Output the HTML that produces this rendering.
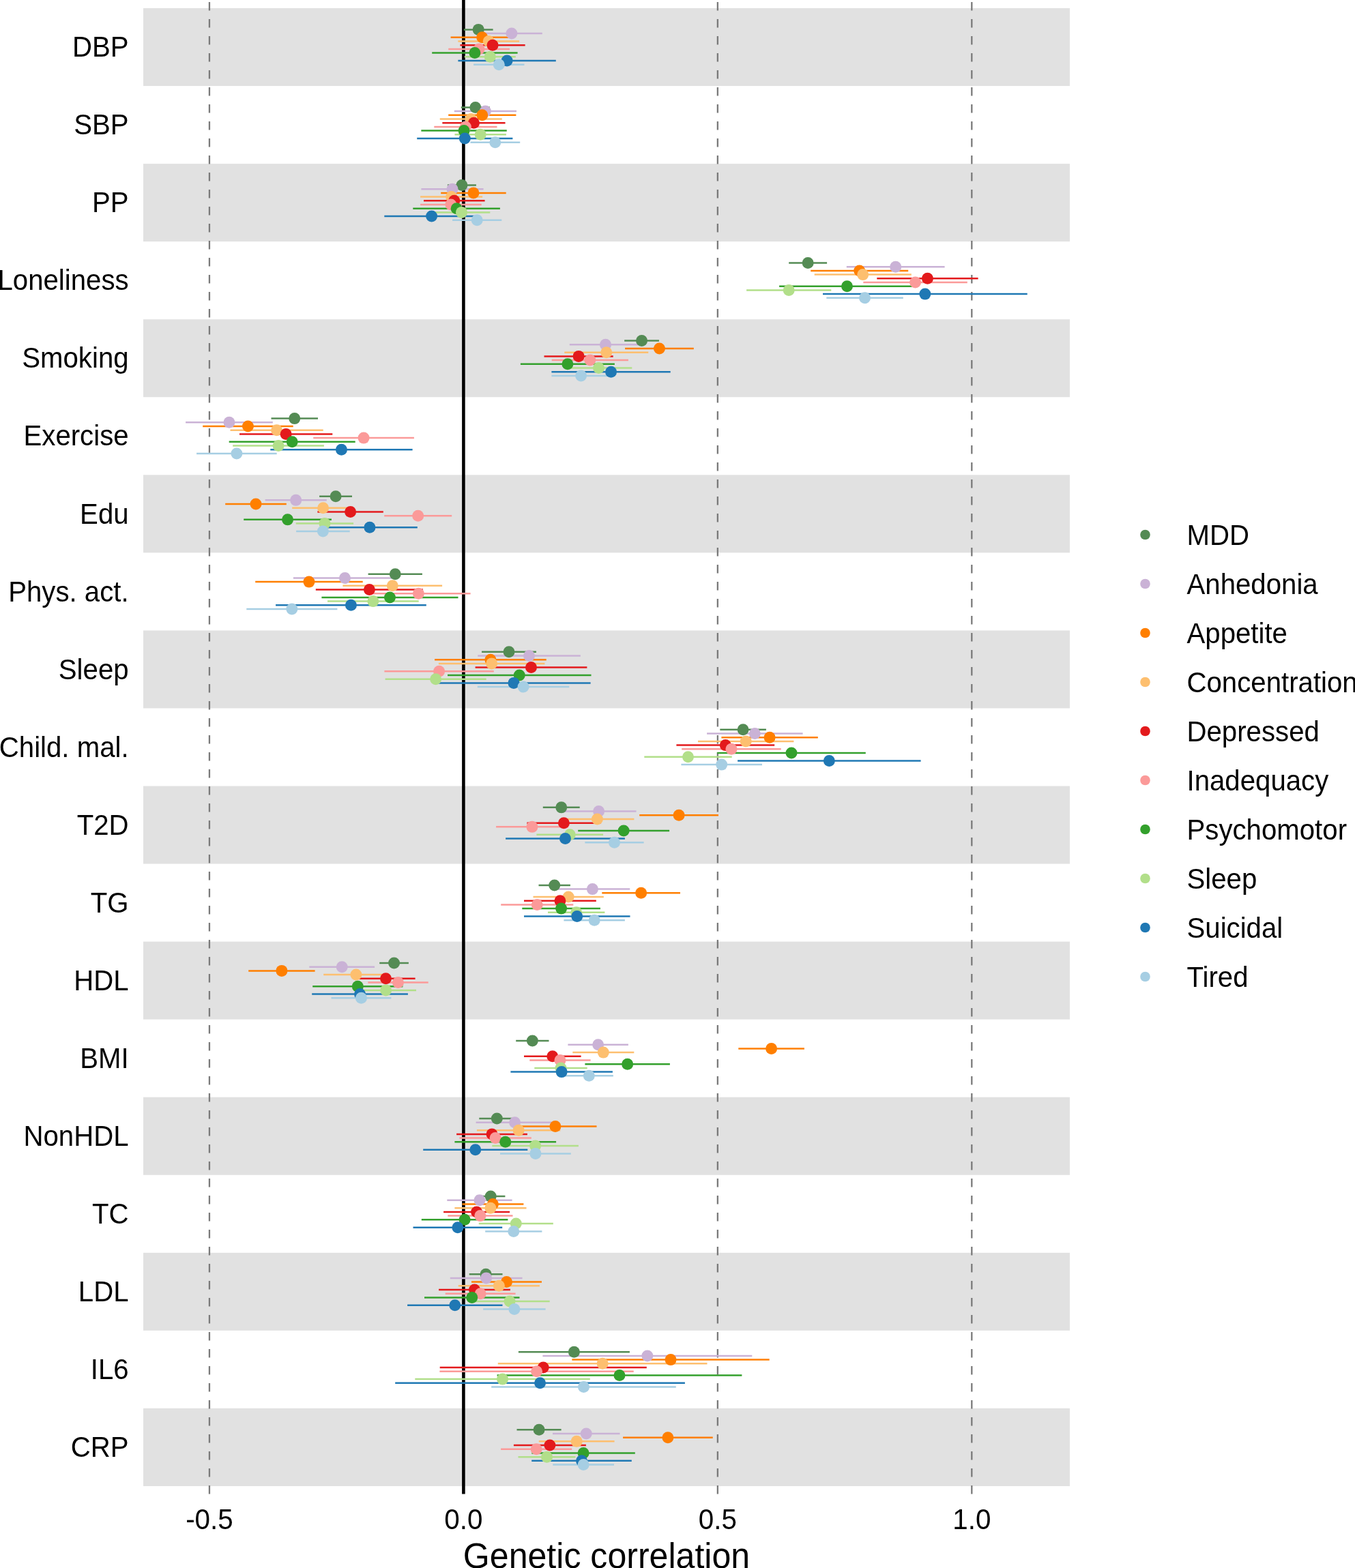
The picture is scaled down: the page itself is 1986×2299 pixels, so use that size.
<!DOCTYPE html>
<html><head><meta charset="utf-8"><title>Genetic correlation</title>
<style>html,body{margin:0;padding:0;background:#fff;}body{width:1986px;height:2299px;overflow:hidden;}svg{display:block;}text{font-family:"Liberation Sans",Arial,Helvetica,sans-serif;fill:#000;}</style></head><body>
<svg width="1986" height="2299" viewBox="0 0 1986 2299">
<rect x="0" y="0" width="1986" height="2299" fill="#fff"/>
<g fill="#E1E1E1">
<rect x="210" y="12" width="1358" height="114.05"/>
<rect x="210" y="240.1" width="1358" height="114.05"/>
<rect x="210" y="468.2" width="1358" height="114.05"/>
<rect x="210" y="696.3" width="1358" height="114.05"/>
<rect x="210" y="924.4" width="1358" height="114.05"/>
<rect x="210" y="1152.5" width="1358" height="114.05"/>
<rect x="210" y="1380.6" width="1358" height="114.05"/>
<rect x="210" y="1608.7" width="1358" height="114.05"/>
<rect x="210" y="1836.8" width="1358" height="114.05"/>
<rect x="210" y="2064.9" width="1358" height="114.05"/>
</g>
<g stroke="#7a7a7a" stroke-width="2.3" stroke-dasharray="12.5 12.5" fill="none">
<line x1="306.95" y1="2190.5" x2="306.95" y2="0"/>
<line x1="1051.85" y1="2190.5" x2="1051.85" y2="0"/>
<line x1="1424.3" y1="2190.5" x2="1424.3" y2="0"/>
</g>
<line x1="679.4" y1="2190.5" x2="679.4" y2="0" stroke="#000" stroke-width="4.6"/>
<g stroke-width="2.5" fill="none">
<line x1="679.8" y1="43.38" x2="722.6" y2="43.38" stroke="#548B54"/>
<line x1="705" y1="49.08" x2="794.8" y2="49.08" stroke="#CAB2D6"/>
<line x1="660.6" y1="54.78" x2="752.8" y2="54.78" stroke="#FF7F00"/>
<line x1="671.35" y1="60.48" x2="761.15" y2="60.48" stroke="#FDBF6F"/>
<line x1="674.45" y1="66.18" x2="769.65" y2="66.18" stroke="#E31A1C"/>
<line x1="657.2" y1="71.88" x2="747" y2="71.88" stroke="#FB9A99"/>
<line x1="633.2" y1="77.58" x2="758.6" y2="77.58" stroke="#33A02C"/>
<line x1="680.8" y1="83.28" x2="755.8" y2="83.28" stroke="#B2DF8A"/>
<line x1="671.4" y1="88.98" x2="814.8" y2="88.98" stroke="#1F78B4"/>
<line x1="694.1" y1="94.68" x2="768.5" y2="94.68" stroke="#A6CEE3"/>
<line x1="675.8" y1="157.42" x2="717.8" y2="157.42" stroke="#548B54"/>
<line x1="665.8" y1="163.12" x2="757" y2="163.12" stroke="#CAB2D6"/>
<line x1="657.2" y1="168.82" x2="756.4" y2="168.82" stroke="#FF7F00"/>
<line x1="644.75" y1="174.52" x2="735.75" y2="174.52" stroke="#FDBF6F"/>
<line x1="648.35" y1="180.22" x2="740.55" y2="180.22" stroke="#E31A1C"/>
<line x1="636.3" y1="185.92" x2="728.5" y2="185.92" stroke="#FB9A99"/>
<line x1="617.35" y1="191.62" x2="742.75" y2="191.62" stroke="#33A02C"/>
<line x1="666.5" y1="197.32" x2="741.9" y2="197.32" stroke="#B2DF8A"/>
<line x1="611.2" y1="203.02" x2="751.4" y2="203.02" stroke="#1F78B4"/>
<line x1="689.4" y1="208.72" x2="762.2" y2="208.72" stroke="#A6CEE3"/>
<line x1="655.9" y1="271.48" x2="697.9" y2="271.48" stroke="#548B54"/>
<line x1="617.4" y1="277.18" x2="708.6" y2="277.18" stroke="#CAB2D6"/>
<line x1="646.2" y1="282.88" x2="741.7" y2="282.88" stroke="#FF7F00"/>
<line x1="616.1" y1="288.57" x2="707.1" y2="288.57" stroke="#FDBF6F"/>
<line x1="621" y1="294.27" x2="710.6" y2="294.27" stroke="#E31A1C"/>
<line x1="616.1" y1="299.98" x2="705.7" y2="299.98" stroke="#FB9A99"/>
<line x1="605.3" y1="305.68" x2="732.9" y2="305.68" stroke="#33A02C"/>
<line x1="634.7" y1="311.38" x2="718.3" y2="311.38" stroke="#B2DF8A"/>
<line x1="563.3" y1="317.07" x2="701.9" y2="317.07" stroke="#1F78B4"/>
<line x1="663.1" y1="322.77" x2="735.3" y2="322.77" stroke="#A6CEE3"/>
<line x1="1156.2" y1="385.53" x2="1212.1" y2="385.53" stroke="#548B54"/>
<line x1="1240.8" y1="391.23" x2="1384.6" y2="391.23" stroke="#CAB2D6"/>
<line x1="1188.2" y1="396.93" x2="1331.2" y2="396.93" stroke="#FF7F00"/>
<line x1="1193.7" y1="402.62" x2="1335.8" y2="402.62" stroke="#FDBF6F"/>
<line x1="1285.3" y1="408.32" x2="1433.6" y2="408.32" stroke="#E31A1C"/>
<line x1="1265.3" y1="414.03" x2="1417.8" y2="414.03" stroke="#FB9A99"/>
<line x1="1142.1" y1="419.73" x2="1340.9" y2="419.73" stroke="#33A02C"/>
<line x1="1094.1" y1="425.43" x2="1218.3" y2="425.43" stroke="#B2DF8A"/>
<line x1="1206" y1="431.12" x2="1505.7" y2="431.12" stroke="#1F78B4"/>
<line x1="1211.3" y1="436.82" x2="1323.8" y2="436.82" stroke="#A6CEE3"/>
<line x1="915.15" y1="499.58" x2="965.95" y2="499.58" stroke="#548B54"/>
<line x1="834.8" y1="505.28" x2="940.2" y2="505.28" stroke="#CAB2D6"/>
<line x1="916.1" y1="510.98" x2="1016.8" y2="510.98" stroke="#FF7F00"/>
<line x1="827.25" y1="516.68" x2="950.25" y2="516.68" stroke="#FDBF6F"/>
<line x1="797.5" y1="522.38" x2="898.7" y2="522.38" stroke="#E31A1C"/>
<line x1="808.7" y1="528.08" x2="920.9" y2="528.08" stroke="#FB9A99"/>
<line x1="762.9" y1="533.77" x2="900.9" y2="533.77" stroke="#33A02C"/>
<line x1="828.7" y1="539.48" x2="926.3" y2="539.48" stroke="#B2DF8A"/>
<line x1="808.4" y1="545.18" x2="982.7" y2="545.18" stroke="#1F78B4"/>
<line x1="808.4" y1="550.88" x2="894.8" y2="550.88" stroke="#A6CEE3"/>
<line x1="397.5" y1="613.62" x2="466" y2="613.62" stroke="#548B54"/>
<line x1="272.1" y1="619.32" x2="399.8" y2="619.32" stroke="#CAB2D6"/>
<line x1="297.2" y1="625.02" x2="429.7" y2="625.02" stroke="#FF7F00"/>
<line x1="337.5" y1="630.73" x2="473.7" y2="630.73" stroke="#FDBF6F"/>
<line x1="351" y1="636.42" x2="487.3" y2="636.42" stroke="#E31A1C"/>
<line x1="459.2" y1="642.12" x2="606.9" y2="642.12" stroke="#FB9A99"/>
<line x1="335.7" y1="647.82" x2="520.7" y2="647.82" stroke="#33A02C"/>
<line x1="341.2" y1="653.52" x2="474.9" y2="653.52" stroke="#B2DF8A"/>
<line x1="396.3" y1="659.23" x2="604.6" y2="659.23" stroke="#1F78B4"/>
<line x1="288.1" y1="664.92" x2="405.7" y2="664.92" stroke="#A6CEE3"/>
<line x1="468.1" y1="727.67" x2="516" y2="727.67" stroke="#548B54"/>
<line x1="388.6" y1="733.37" x2="478.8" y2="733.37" stroke="#CAB2D6"/>
<line x1="330.2" y1="739.07" x2="419.8" y2="739.07" stroke="#FF7F00"/>
<line x1="428.2" y1="744.77" x2="519" y2="744.77" stroke="#FDBF6F"/>
<line x1="465.4" y1="750.47" x2="561.8" y2="750.47" stroke="#E31A1C"/>
<line x1="563.2" y1="756.17" x2="662.2" y2="756.17" stroke="#FB9A99"/>
<line x1="357.2" y1="761.87" x2="485.9" y2="761.87" stroke="#33A02C"/>
<line x1="433.7" y1="767.57" x2="518.1" y2="767.57" stroke="#B2DF8A"/>
<line x1="472" y1="773.27" x2="611.8" y2="773.27" stroke="#1F78B4"/>
<line x1="434.1" y1="778.97" x2="512.7" y2="778.97" stroke="#A6CEE3"/>
<line x1="539.6" y1="841.73" x2="618.9" y2="841.73" stroke="#548B54"/>
<line x1="429.9" y1="847.42" x2="581.1" y2="847.42" stroke="#CAB2D6"/>
<line x1="374.2" y1="853.12" x2="531.7" y2="853.12" stroke="#FF7F00"/>
<line x1="502.4" y1="858.83" x2="648.1" y2="858.83" stroke="#FDBF6F"/>
<line x1="462.8" y1="864.52" x2="620" y2="864.52" stroke="#E31A1C"/>
<line x1="537.2" y1="870.23" x2="689.6" y2="870.23" stroke="#FB9A99"/>
<line x1="471.4" y1="875.92" x2="671.5" y2="875.92" stroke="#33A02C"/>
<line x1="480" y1="881.62" x2="613.7" y2="881.62" stroke="#B2DF8A"/>
<line x1="404.1" y1="887.33" x2="624.8" y2="887.33" stroke="#1F78B4"/>
<line x1="361.3" y1="893.02" x2="494.4" y2="893.02" stroke="#A6CEE3"/>
<line x1="706.05" y1="955.77" x2="785.95" y2="955.77" stroke="#548B54"/>
<line x1="700.3" y1="961.47" x2="850.8" y2="961.47" stroke="#CAB2D6"/>
<line x1="637.1" y1="967.17" x2="800.7" y2="967.17" stroke="#FF7F00"/>
<line x1="642.9" y1="972.88" x2="798.4" y2="972.88" stroke="#FDBF6F"/>
<line x1="696.6" y1="978.57" x2="860.4" y2="978.57" stroke="#E31A1C"/>
<line x1="563.4" y1="984.27" x2="723.8" y2="984.27" stroke="#FB9A99"/>
<line x1="656" y1="989.97" x2="866.5" y2="989.97" stroke="#33A02C"/>
<line x1="564.6" y1="995.67" x2="712.7" y2="995.67" stroke="#B2DF8A"/>
<line x1="640.4" y1="1001.38" x2="865.6" y2="1001.38" stroke="#1F78B4"/>
<line x1="699.8" y1="1007.07" x2="834.3" y2="1007.07" stroke="#A6CEE3"/>
<line x1="1055.3" y1="1069.82" x2="1122.9" y2="1069.82" stroke="#548B54"/>
<line x1="1036.1" y1="1075.52" x2="1176.6" y2="1075.52" stroke="#CAB2D6"/>
<line x1="1057.4" y1="1081.22" x2="1198.8" y2="1081.22" stroke="#FF7F00"/>
<line x1="1023" y1="1086.92" x2="1163.4" y2="1086.92" stroke="#FDBF6F"/>
<line x1="991.4" y1="1092.62" x2="1135.2" y2="1092.62" stroke="#E31A1C"/>
<line x1="999.2" y1="1098.32" x2="1144.7" y2="1098.32" stroke="#FB9A99"/>
<line x1="1051.2" y1="1104.02" x2="1268.8" y2="1104.02" stroke="#33A02C"/>
<line x1="944.3" y1="1109.72" x2="1072.7" y2="1109.72" stroke="#B2DF8A"/>
<line x1="1081.1" y1="1115.42" x2="1349.6" y2="1115.42" stroke="#1F78B4"/>
<line x1="998.4" y1="1121.12" x2="1117" y2="1121.12" stroke="#A6CEE3"/>
<line x1="795.8" y1="1183.87" x2="849.7" y2="1183.87" stroke="#548B54"/>
<line x1="822.7" y1="1189.57" x2="932.5" y2="1189.57" stroke="#CAB2D6"/>
<line x1="937.2" y1="1195.27" x2="1053" y2="1195.27" stroke="#FF7F00"/>
<line x1="821.4" y1="1200.97" x2="929.4" y2="1200.97" stroke="#FDBF6F"/>
<line x1="772.4" y1="1206.67" x2="880.4" y2="1206.67" stroke="#E31A1C"/>
<line x1="727.1" y1="1212.37" x2="832.7" y2="1212.37" stroke="#FB9A99"/>
<line x1="847.2" y1="1218.07" x2="981.1" y2="1218.07" stroke="#33A02C"/>
<line x1="786.4" y1="1223.77" x2="884.1" y2="1223.77" stroke="#B2DF8A"/>
<line x1="741.1" y1="1229.47" x2="915.9" y2="1229.47" stroke="#1F78B4"/>
<line x1="857.4" y1="1235.17" x2="943.6" y2="1235.17" stroke="#A6CEE3"/>
<line x1="789.5" y1="1297.92" x2="835.9" y2="1297.92" stroke="#548B54"/>
<line x1="813.55" y1="1303.62" x2="923.25" y2="1303.62" stroke="#CAB2D6"/>
<line x1="882.3" y1="1309.33" x2="997" y2="1309.33" stroke="#FF7F00"/>
<line x1="781.5" y1="1315.03" x2="884.8" y2="1315.03" stroke="#FDBF6F"/>
<line x1="768" y1="1320.73" x2="873.8" y2="1320.73" stroke="#E31A1C"/>
<line x1="734.2" y1="1326.42" x2="840.3" y2="1326.42" stroke="#FB9A99"/>
<line x1="765.3" y1="1332.12" x2="879.9" y2="1332.12" stroke="#33A02C"/>
<line x1="803" y1="1337.83" x2="886.4" y2="1337.83" stroke="#B2DF8A"/>
<line x1="768" y1="1343.53" x2="923.5" y2="1343.53" stroke="#1F78B4"/>
<line x1="826.4" y1="1349.23" x2="915.9" y2="1349.23" stroke="#A6CEE3"/>
<line x1="556.2" y1="1411.97" x2="598.9" y2="1411.97" stroke="#548B54"/>
<line x1="453.3" y1="1417.67" x2="549.1" y2="1417.67" stroke="#CAB2D6"/>
<line x1="364.2" y1="1423.38" x2="461.6" y2="1423.38" stroke="#FF7F00"/>
<line x1="474.2" y1="1429.08" x2="569.6" y2="1429.08" stroke="#FDBF6F"/>
<line x1="522.4" y1="1434.78" x2="608.6" y2="1434.78" stroke="#E31A1C"/>
<line x1="539.3" y1="1440.47" x2="627.7" y2="1440.47" stroke="#FB9A99"/>
<line x1="458.2" y1="1446.17" x2="590.4" y2="1446.17" stroke="#33A02C"/>
<line x1="521.2" y1="1451.88" x2="610" y2="1451.88" stroke="#B2DF8A"/>
<line x1="457.2" y1="1457.58" x2="597.9" y2="1457.58" stroke="#1F78B4"/>
<line x1="485.5" y1="1463.28" x2="573.4" y2="1463.28" stroke="#A6CEE3"/>
<line x1="756.2" y1="1526.02" x2="804.5" y2="1526.02" stroke="#548B54"/>
<line x1="832.4" y1="1531.72" x2="920.9" y2="1531.72" stroke="#CAB2D6"/>
<line x1="1082.3" y1="1537.42" x2="1178.9" y2="1537.42" stroke="#FF7F00"/>
<line x1="839.3" y1="1543.12" x2="929.3" y2="1543.12" stroke="#FDBF6F"/>
<line x1="768" y1="1548.83" x2="851.6" y2="1548.83" stroke="#E31A1C"/>
<line x1="776.3" y1="1554.52" x2="865.6" y2="1554.52" stroke="#FB9A99"/>
<line x1="857.4" y1="1560.22" x2="981.9" y2="1560.22" stroke="#33A02C"/>
<line x1="783.3" y1="1565.92" x2="860.7" y2="1565.92" stroke="#B2DF8A"/>
<line x1="748.4" y1="1571.62" x2="897.9" y2="1571.62" stroke="#1F78B4"/>
<line x1="827.8" y1="1577.33" x2="898.8" y2="1577.33" stroke="#A6CEE3"/>
<line x1="702.3" y1="1640.07" x2="754.3" y2="1640.07" stroke="#548B54"/>
<line x1="697.6" y1="1645.77" x2="811.6" y2="1645.77" stroke="#CAB2D6"/>
<line x1="753.3" y1="1651.47" x2="874.5" y2="1651.47" stroke="#FF7F00"/>
<line x1="698.9" y1="1657.17" x2="821.3" y2="1657.17" stroke="#FDBF6F"/>
<line x1="669.1" y1="1662.88" x2="772.9" y2="1662.88" stroke="#E31A1C"/>
<line x1="673.4" y1="1668.57" x2="778.8" y2="1668.57" stroke="#FB9A99"/>
<line x1="666.4" y1="1674.27" x2="815.1" y2="1674.27" stroke="#33A02C"/>
<line x1="721.3" y1="1679.97" x2="847.9" y2="1679.97" stroke="#B2DF8A"/>
<line x1="620.2" y1="1685.67" x2="773.3" y2="1685.67" stroke="#1F78B4"/>
<line x1="733" y1="1691.38" x2="836.8" y2="1691.38" stroke="#A6CEE3"/>
<line x1="698" y1="1754.12" x2="740.4" y2="1754.12" stroke="#548B54"/>
<line x1="655.3" y1="1759.82" x2="750.6" y2="1759.82" stroke="#CAB2D6"/>
<line x1="677.4" y1="1765.52" x2="767.4" y2="1765.52" stroke="#FF7F00"/>
<line x1="666.4" y1="1771.22" x2="771.5" y2="1771.22" stroke="#FDBF6F"/>
<line x1="650.1" y1="1776.92" x2="747.1" y2="1776.92" stroke="#E31A1C"/>
<line x1="656.3" y1="1782.62" x2="751.5" y2="1782.62" stroke="#FB9A99"/>
<line x1="617.8" y1="1788.32" x2="744.4" y2="1788.32" stroke="#33A02C"/>
<line x1="701.8" y1="1794.02" x2="810.8" y2="1794.02" stroke="#B2DF8A"/>
<line x1="605.5" y1="1799.72" x2="736.2" y2="1799.72" stroke="#1F78B4"/>
<line x1="711.2" y1="1805.42" x2="794.4" y2="1805.42" stroke="#A6CEE3"/>
<line x1="687.7" y1="1868.17" x2="736.5" y2="1868.17" stroke="#548B54"/>
<line x1="659.8" y1="1873.88" x2="765.5" y2="1873.88" stroke="#CAB2D6"/>
<line x1="691" y1="1879.58" x2="794" y2="1879.58" stroke="#FF7F00"/>
<line x1="671.75" y1="1885.28" x2="790.95" y2="1885.28" stroke="#FDBF6F"/>
<line x1="643.1" y1="1890.98" x2="747.9" y2="1890.98" stroke="#E31A1C"/>
<line x1="652.7" y1="1896.67" x2="755.6" y2="1896.67" stroke="#FB9A99"/>
<line x1="622" y1="1902.38" x2="761.5" y2="1902.38" stroke="#33A02C"/>
<line x1="688.3" y1="1908.08" x2="805.7" y2="1908.08" stroke="#B2DF8A"/>
<line x1="597.1" y1="1913.78" x2="736.5" y2="1913.78" stroke="#1F78B4"/>
<line x1="708.2" y1="1919.48" x2="799.6" y2="1919.48" stroke="#A6CEE3"/>
<line x1="759.9" y1="1982.22" x2="922.9" y2="1982.22" stroke="#548B54"/>
<line x1="795.4" y1="1987.92" x2="1102.3" y2="1987.92" stroke="#CAB2D6"/>
<line x1="838.4" y1="1993.62" x2="1127.7" y2="1993.62" stroke="#FF7F00"/>
<line x1="729.8" y1="1999.33" x2="1036.5" y2="1999.33" stroke="#FDBF6F"/>
<line x1="644.7" y1="2005.03" x2="947.8" y2="2005.03" stroke="#E31A1C"/>
<line x1="644.4" y1="2010.72" x2="928.7" y2="2010.72" stroke="#FB9A99"/>
<line x1="728.6" y1="2016.42" x2="1087.4" y2="2016.42" stroke="#33A02C"/>
<line x1="608.3" y1="2022.12" x2="864.8" y2="2022.12" stroke="#B2DF8A"/>
<line x1="579.2" y1="2027.83" x2="1003.9" y2="2027.83" stroke="#1F78B4"/>
<line x1="720.2" y1="2033.53" x2="990.8" y2="2033.53" stroke="#A6CEE3"/>
<line x1="757.5" y1="2096.27" x2="822.6" y2="2096.27" stroke="#548B54"/>
<line x1="810" y1="2101.97" x2="908.5" y2="2101.97" stroke="#CAB2D6"/>
<line x1="913.1" y1="2107.67" x2="1044.7" y2="2107.67" stroke="#FF7F00"/>
<line x1="789.8" y1="2113.37" x2="900.6" y2="2113.37" stroke="#FDBF6F"/>
<line x1="752.9" y1="2119.07" x2="858.9" y2="2119.07" stroke="#E31A1C"/>
<line x1="734.1" y1="2124.77" x2="838.2" y2="2124.77" stroke="#FB9A99"/>
<line x1="779.4" y1="2130.47" x2="930.8" y2="2130.47" stroke="#33A02C"/>
<line x1="759.5" y1="2136.17" x2="843.5" y2="2136.17" stroke="#B2DF8A"/>
<line x1="779.2" y1="2141.87" x2="925.8" y2="2141.87" stroke="#1F78B4"/>
<line x1="810.3" y1="2147.57" x2="900" y2="2147.57" stroke="#A6CEE3"/>
</g>
<g>
<circle cx="701.2" cy="43.38" r="8.5" fill="#548B54"/>
<circle cx="749.9" cy="49.08" r="8.5" fill="#CAB2D6"/>
<circle cx="706.7" cy="54.78" r="8.5" fill="#FF7F00"/>
<circle cx="716.25" cy="60.48" r="8.5" fill="#FDBF6F"/>
<circle cx="722.05" cy="66.18" r="8.5" fill="#E31A1C"/>
<circle cx="702.1" cy="71.88" r="8.5" fill="#FB9A99"/>
<circle cx="695.9" cy="77.58" r="8.5" fill="#33A02C"/>
<circle cx="718.3" cy="83.28" r="8.5" fill="#B2DF8A"/>
<circle cx="743.1" cy="88.98" r="8.5" fill="#1F78B4"/>
<circle cx="731.3" cy="94.68" r="8.5" fill="#A6CEE3"/>
<circle cx="696.8" cy="157.42" r="8.5" fill="#548B54"/>
<circle cx="711.4" cy="163.12" r="8.5" fill="#CAB2D6"/>
<circle cx="706.8" cy="168.82" r="8.5" fill="#FF7F00"/>
<circle cx="690.25" cy="174.52" r="8.5" fill="#FDBF6F"/>
<circle cx="694.45" cy="180.22" r="8.5" fill="#E31A1C"/>
<circle cx="682.4" cy="185.92" r="8.5" fill="#FB9A99"/>
<circle cx="680.05" cy="191.62" r="8.5" fill="#33A02C"/>
<circle cx="704.2" cy="197.32" r="8.5" fill="#B2DF8A"/>
<circle cx="681.3" cy="203.02" r="8.5" fill="#1F78B4"/>
<circle cx="725.8" cy="208.72" r="8.5" fill="#A6CEE3"/>
<circle cx="676.9" cy="271.48" r="8.5" fill="#548B54"/>
<circle cx="663" cy="277.18" r="8.5" fill="#CAB2D6"/>
<circle cx="693.95" cy="282.88" r="8.5" fill="#FF7F00"/>
<circle cx="661.6" cy="288.57" r="8.5" fill="#FDBF6F"/>
<circle cx="665.8" cy="294.27" r="8.5" fill="#E31A1C"/>
<circle cx="660.9" cy="299.98" r="8.5" fill="#FB9A99"/>
<circle cx="669.1" cy="305.68" r="8.5" fill="#33A02C"/>
<circle cx="676.5" cy="311.38" r="8.5" fill="#B2DF8A"/>
<circle cx="632.6" cy="317.07" r="8.5" fill="#1F78B4"/>
<circle cx="699.2" cy="322.77" r="8.5" fill="#A6CEE3"/>
<circle cx="1184.15" cy="385.53" r="8.5" fill="#548B54"/>
<circle cx="1312.7" cy="391.23" r="8.5" fill="#CAB2D6"/>
<circle cx="1259.7" cy="396.93" r="8.5" fill="#FF7F00"/>
<circle cx="1264.75" cy="402.62" r="8.5" fill="#FDBF6F"/>
<circle cx="1359.45" cy="408.32" r="8.5" fill="#E31A1C"/>
<circle cx="1341.55" cy="414.03" r="8.5" fill="#FB9A99"/>
<circle cx="1241.5" cy="419.73" r="8.5" fill="#33A02C"/>
<circle cx="1156.2" cy="425.43" r="8.5" fill="#B2DF8A"/>
<circle cx="1355.85" cy="431.12" r="8.5" fill="#1F78B4"/>
<circle cx="1267.55" cy="436.82" r="8.5" fill="#A6CEE3"/>
<circle cx="940.55" cy="499.58" r="8.5" fill="#548B54"/>
<circle cx="887.5" cy="505.28" r="8.5" fill="#CAB2D6"/>
<circle cx="966.45" cy="510.98" r="8.5" fill="#FF7F00"/>
<circle cx="888.75" cy="516.68" r="8.5" fill="#FDBF6F"/>
<circle cx="848.1" cy="522.38" r="8.5" fill="#E31A1C"/>
<circle cx="864.8" cy="528.08" r="8.5" fill="#FB9A99"/>
<circle cx="831.9" cy="533.77" r="8.5" fill="#33A02C"/>
<circle cx="877.5" cy="539.48" r="8.5" fill="#B2DF8A"/>
<circle cx="895.55" cy="545.18" r="8.5" fill="#1F78B4"/>
<circle cx="851.6" cy="550.88" r="8.5" fill="#A6CEE3"/>
<circle cx="431.75" cy="613.62" r="8.5" fill="#548B54"/>
<circle cx="335.95" cy="619.32" r="8.5" fill="#CAB2D6"/>
<circle cx="363.45" cy="625.02" r="8.5" fill="#FF7F00"/>
<circle cx="405.6" cy="630.73" r="8.5" fill="#FDBF6F"/>
<circle cx="419.15" cy="636.42" r="8.5" fill="#E31A1C"/>
<circle cx="533.05" cy="642.12" r="8.5" fill="#FB9A99"/>
<circle cx="428.2" cy="647.82" r="8.5" fill="#33A02C"/>
<circle cx="408.05" cy="653.52" r="8.5" fill="#B2DF8A"/>
<circle cx="500.45" cy="659.23" r="8.5" fill="#1F78B4"/>
<circle cx="346.9" cy="664.92" r="8.5" fill="#A6CEE3"/>
<circle cx="492.05" cy="727.67" r="8.5" fill="#548B54"/>
<circle cx="433.7" cy="733.37" r="8.5" fill="#CAB2D6"/>
<circle cx="375" cy="739.07" r="8.5" fill="#FF7F00"/>
<circle cx="473.6" cy="744.77" r="8.5" fill="#FDBF6F"/>
<circle cx="513.6" cy="750.47" r="8.5" fill="#E31A1C"/>
<circle cx="612.7" cy="756.17" r="8.5" fill="#FB9A99"/>
<circle cx="421.55" cy="761.87" r="8.5" fill="#33A02C"/>
<circle cx="475.9" cy="767.57" r="8.5" fill="#B2DF8A"/>
<circle cx="541.9" cy="773.27" r="8.5" fill="#1F78B4"/>
<circle cx="473.4" cy="778.97" r="8.5" fill="#A6CEE3"/>
<circle cx="579.25" cy="841.73" r="8.5" fill="#548B54"/>
<circle cx="505.5" cy="847.42" r="8.5" fill="#CAB2D6"/>
<circle cx="452.95" cy="853.12" r="8.5" fill="#FF7F00"/>
<circle cx="575.25" cy="858.83" r="8.5" fill="#FDBF6F"/>
<circle cx="541.4" cy="864.52" r="8.5" fill="#E31A1C"/>
<circle cx="613.4" cy="870.23" r="8.5" fill="#FB9A99"/>
<circle cx="571.45" cy="875.92" r="8.5" fill="#33A02C"/>
<circle cx="546.85" cy="881.62" r="8.5" fill="#B2DF8A"/>
<circle cx="514.45" cy="887.33" r="8.5" fill="#1F78B4"/>
<circle cx="427.85" cy="893.02" r="8.5" fill="#A6CEE3"/>
<circle cx="746" cy="955.77" r="8.5" fill="#548B54"/>
<circle cx="775.55" cy="961.47" r="8.5" fill="#CAB2D6"/>
<circle cx="718.9" cy="967.17" r="8.5" fill="#FF7F00"/>
<circle cx="720.65" cy="972.88" r="8.5" fill="#FDBF6F"/>
<circle cx="778.5" cy="978.57" r="8.5" fill="#E31A1C"/>
<circle cx="643.6" cy="984.27" r="8.5" fill="#FB9A99"/>
<circle cx="761.25" cy="989.97" r="8.5" fill="#33A02C"/>
<circle cx="638.65" cy="995.67" r="8.5" fill="#B2DF8A"/>
<circle cx="753" cy="1001.38" r="8.5" fill="#1F78B4"/>
<circle cx="767.05" cy="1007.07" r="8.5" fill="#A6CEE3"/>
<circle cx="1089.1" cy="1069.82" r="8.5" fill="#548B54"/>
<circle cx="1106.35" cy="1075.52" r="8.5" fill="#CAB2D6"/>
<circle cx="1128.1" cy="1081.22" r="8.5" fill="#FF7F00"/>
<circle cx="1093.2" cy="1086.92" r="8.5" fill="#FDBF6F"/>
<circle cx="1063.3" cy="1092.62" r="8.5" fill="#E31A1C"/>
<circle cx="1071.95" cy="1098.32" r="8.5" fill="#FB9A99"/>
<circle cx="1160" cy="1104.02" r="8.5" fill="#33A02C"/>
<circle cx="1008.5" cy="1109.72" r="8.5" fill="#B2DF8A"/>
<circle cx="1215.35" cy="1115.42" r="8.5" fill="#1F78B4"/>
<circle cx="1057.7" cy="1121.12" r="8.5" fill="#A6CEE3"/>
<circle cx="822.75" cy="1183.87" r="8.5" fill="#548B54"/>
<circle cx="877.6" cy="1189.57" r="8.5" fill="#CAB2D6"/>
<circle cx="995.1" cy="1195.27" r="8.5" fill="#FF7F00"/>
<circle cx="875.4" cy="1200.97" r="8.5" fill="#FDBF6F"/>
<circle cx="826.4" cy="1206.67" r="8.5" fill="#E31A1C"/>
<circle cx="779.9" cy="1212.37" r="8.5" fill="#FB9A99"/>
<circle cx="914.15" cy="1218.07" r="8.5" fill="#33A02C"/>
<circle cx="835.25" cy="1223.77" r="8.5" fill="#B2DF8A"/>
<circle cx="828.5" cy="1229.47" r="8.5" fill="#1F78B4"/>
<circle cx="900.5" cy="1235.17" r="8.5" fill="#A6CEE3"/>
<circle cx="812.7" cy="1297.92" r="8.5" fill="#548B54"/>
<circle cx="868.4" cy="1303.62" r="8.5" fill="#CAB2D6"/>
<circle cx="939.65" cy="1309.33" r="8.5" fill="#FF7F00"/>
<circle cx="833.15" cy="1315.03" r="8.5" fill="#FDBF6F"/>
<circle cx="820.9" cy="1320.73" r="8.5" fill="#E31A1C"/>
<circle cx="787.25" cy="1326.42" r="8.5" fill="#FB9A99"/>
<circle cx="822.6" cy="1332.12" r="8.5" fill="#33A02C"/>
<circle cx="844.7" cy="1337.83" r="8.5" fill="#B2DF8A"/>
<circle cx="845.75" cy="1343.53" r="8.5" fill="#1F78B4"/>
<circle cx="871.15" cy="1349.23" r="8.5" fill="#A6CEE3"/>
<circle cx="577.55" cy="1411.97" r="8.5" fill="#548B54"/>
<circle cx="501.2" cy="1417.67" r="8.5" fill="#CAB2D6"/>
<circle cx="412.9" cy="1423.38" r="8.5" fill="#FF7F00"/>
<circle cx="521.9" cy="1429.08" r="8.5" fill="#FDBF6F"/>
<circle cx="565.5" cy="1434.78" r="8.5" fill="#E31A1C"/>
<circle cx="583.5" cy="1440.47" r="8.5" fill="#FB9A99"/>
<circle cx="524.3" cy="1446.17" r="8.5" fill="#33A02C"/>
<circle cx="565.6" cy="1451.88" r="8.5" fill="#B2DF8A"/>
<circle cx="527.55" cy="1457.58" r="8.5" fill="#1F78B4"/>
<circle cx="529.45" cy="1463.28" r="8.5" fill="#A6CEE3"/>
<circle cx="780.35" cy="1526.02" r="8.5" fill="#548B54"/>
<circle cx="876.65" cy="1531.72" r="8.5" fill="#CAB2D6"/>
<circle cx="1130.6" cy="1537.42" r="8.5" fill="#FF7F00"/>
<circle cx="884.3" cy="1543.12" r="8.5" fill="#FDBF6F"/>
<circle cx="809.8" cy="1548.83" r="8.5" fill="#E31A1C"/>
<circle cx="820.95" cy="1554.52" r="8.5" fill="#FB9A99"/>
<circle cx="919.65" cy="1560.22" r="8.5" fill="#33A02C"/>
<circle cx="822" cy="1565.92" r="8.5" fill="#B2DF8A"/>
<circle cx="823.15" cy="1571.62" r="8.5" fill="#1F78B4"/>
<circle cx="863.3" cy="1577.33" r="8.5" fill="#A6CEE3"/>
<circle cx="728.3" cy="1640.07" r="8.5" fill="#548B54"/>
<circle cx="754.6" cy="1645.77" r="8.5" fill="#CAB2D6"/>
<circle cx="813.9" cy="1651.47" r="8.5" fill="#FF7F00"/>
<circle cx="760.1" cy="1657.17" r="8.5" fill="#FDBF6F"/>
<circle cx="721" cy="1662.88" r="8.5" fill="#E31A1C"/>
<circle cx="726.1" cy="1668.57" r="8.5" fill="#FB9A99"/>
<circle cx="740.75" cy="1674.27" r="8.5" fill="#33A02C"/>
<circle cx="784.6" cy="1679.97" r="8.5" fill="#B2DF8A"/>
<circle cx="696.75" cy="1685.67" r="8.5" fill="#1F78B4"/>
<circle cx="784.9" cy="1691.38" r="8.5" fill="#A6CEE3"/>
<circle cx="719.2" cy="1754.12" r="8.5" fill="#548B54"/>
<circle cx="702.95" cy="1759.82" r="8.5" fill="#CAB2D6"/>
<circle cx="722.4" cy="1765.52" r="8.5" fill="#FF7F00"/>
<circle cx="718.95" cy="1771.22" r="8.5" fill="#FDBF6F"/>
<circle cx="698.6" cy="1776.92" r="8.5" fill="#E31A1C"/>
<circle cx="703.9" cy="1782.62" r="8.5" fill="#FB9A99"/>
<circle cx="681.1" cy="1788.32" r="8.5" fill="#33A02C"/>
<circle cx="756.3" cy="1794.02" r="8.5" fill="#B2DF8A"/>
<circle cx="670.85" cy="1799.72" r="8.5" fill="#1F78B4"/>
<circle cx="752.8" cy="1805.42" r="8.5" fill="#A6CEE3"/>
<circle cx="712.1" cy="1868.17" r="8.5" fill="#548B54"/>
<circle cx="712.65" cy="1873.88" r="8.5" fill="#CAB2D6"/>
<circle cx="742.5" cy="1879.58" r="8.5" fill="#FF7F00"/>
<circle cx="731.35" cy="1885.28" r="8.5" fill="#FDBF6F"/>
<circle cx="695.5" cy="1890.98" r="8.5" fill="#E31A1C"/>
<circle cx="704.15" cy="1896.67" r="8.5" fill="#FB9A99"/>
<circle cx="691.75" cy="1902.38" r="8.5" fill="#33A02C"/>
<circle cx="747" cy="1908.08" r="8.5" fill="#B2DF8A"/>
<circle cx="666.8" cy="1913.78" r="8.5" fill="#1F78B4"/>
<circle cx="753.9" cy="1919.48" r="8.5" fill="#A6CEE3"/>
<circle cx="841.4" cy="1982.22" r="8.5" fill="#548B54"/>
<circle cx="948.85" cy="1987.92" r="8.5" fill="#CAB2D6"/>
<circle cx="983.05" cy="1993.62" r="8.5" fill="#FF7F00"/>
<circle cx="883.15" cy="1999.33" r="8.5" fill="#FDBF6F"/>
<circle cx="796.25" cy="2005.03" r="8.5" fill="#E31A1C"/>
<circle cx="786.55" cy="2010.72" r="8.5" fill="#FB9A99"/>
<circle cx="908" cy="2016.42" r="8.5" fill="#33A02C"/>
<circle cx="736.55" cy="2022.12" r="8.5" fill="#B2DF8A"/>
<circle cx="791.55" cy="2027.83" r="8.5" fill="#1F78B4"/>
<circle cx="855.5" cy="2033.53" r="8.5" fill="#A6CEE3"/>
<circle cx="790.05" cy="2096.27" r="8.5" fill="#548B54"/>
<circle cx="859.25" cy="2101.97" r="8.5" fill="#CAB2D6"/>
<circle cx="978.9" cy="2107.67" r="8.5" fill="#FF7F00"/>
<circle cx="845.2" cy="2113.37" r="8.5" fill="#FDBF6F"/>
<circle cx="805.9" cy="2119.07" r="8.5" fill="#E31A1C"/>
<circle cx="786.15" cy="2124.77" r="8.5" fill="#FB9A99"/>
<circle cx="855.1" cy="2130.47" r="8.5" fill="#33A02C"/>
<circle cx="801.5" cy="2136.17" r="8.5" fill="#B2DF8A"/>
<circle cx="852.5" cy="2141.87" r="8.5" fill="#1F78B4"/>
<circle cx="855.15" cy="2147.57" r="8.5" fill="#A6CEE3"/>
</g>
<g font-size="40.2" text-anchor="end">
<text transform="translate(188.6,83.23) scale(1,1.037)">DBP</text>
<text transform="translate(188.6,197.27) scale(1,1.037)">SBP</text>
<text transform="translate(188.6,311.32) scale(1,1.037)">PP</text>
<text transform="translate(188.6,425.38) scale(1,1.037)">Loneliness</text>
<text transform="translate(188.6,539.43) scale(1,1.037)">Smoking</text>
<text transform="translate(188.6,653.48) scale(1,1.037)">Exercise</text>
<text transform="translate(188.6,767.52) scale(1,1.037)">Edu</text>
<text transform="translate(188.6,881.58) scale(1,1.037)">Phys. act.</text>
<text transform="translate(188.6,995.62) scale(1,1.037)">Sleep</text>
<text transform="translate(188.6,1109.67) scale(1,1.037)">Child. mal.</text>
<text transform="translate(188.6,1223.72) scale(1,1.037)">T2D</text>
<text transform="translate(188.6,1337.78) scale(1,1.037)">TG</text>
<text transform="translate(188.6,1451.83) scale(1,1.037)">HDL</text>
<text transform="translate(188.6,1565.88) scale(1,1.037)">BMI</text>
<text transform="translate(188.6,1679.92) scale(1,1.037)">NonHDL</text>
<text transform="translate(188.6,1793.97) scale(1,1.037)">TC</text>
<text transform="translate(188.6,1908.03) scale(1,1.037)">LDL</text>
<text transform="translate(188.6,2022.08) scale(1,1.037)">IL6</text>
<text transform="translate(188.6,2136.12) scale(1,1.037)">CRP</text>
</g>
<g font-size="40.4" text-anchor="middle">
<text transform="translate(306.95,2241.8) scale(1,1.037)">-0.5</text>
<text transform="translate(679.4,2241.8) scale(1,1.037)">0.0</text>
<text transform="translate(1051.85,2241.8) scale(1,1.037)">0.5</text>
<text transform="translate(1424.3,2241.8) scale(1,1.037)">1.0</text>
</g>
<text transform="translate(889,2298.7) scale(1,1.037)" font-size="50.1" text-anchor="middle">Genetic correlation</text>
<g>
<circle cx="1678.5" cy="784" r="7.3" fill="#548B54"/>
<circle cx="1678.5" cy="856" r="7.3" fill="#CAB2D6"/>
<circle cx="1678.5" cy="928" r="7.3" fill="#FF7F00"/>
<circle cx="1678.5" cy="1000" r="7.3" fill="#FDBF6F"/>
<circle cx="1678.5" cy="1072" r="7.3" fill="#E31A1C"/>
<circle cx="1678.5" cy="1144" r="7.3" fill="#FB9A99"/>
<circle cx="1678.5" cy="1216" r="7.3" fill="#33A02C"/>
<circle cx="1678.5" cy="1288" r="7.3" fill="#B2DF8A"/>
<circle cx="1678.5" cy="1360" r="7.3" fill="#1F78B4"/>
<circle cx="1678.5" cy="1432" r="7.3" fill="#A6CEE3"/>
</g>
<g font-size="40.2">
<text transform="translate(1739.5,798.5) scale(1,1.037)">MDD</text>
<text transform="translate(1739.5,870.5) scale(1,1.037)">Anhedonia</text>
<text transform="translate(1739.5,942.5) scale(1,1.037)">Appetite</text>
<text transform="translate(1739.5,1014.5) scale(1,1.037)">Concentration</text>
<text transform="translate(1739.5,1086.5) scale(1,1.037)">Depressed</text>
<text transform="translate(1739.5,1158.5) scale(1,1.037)">Inadequacy</text>
<text transform="translate(1739.5,1230.5) scale(1,1.037)">Psychomotor</text>
<text transform="translate(1739.5,1302.5) scale(1,1.037)">Sleep</text>
<text transform="translate(1739.5,1374.5) scale(1,1.037)">Suicidal</text>
<text transform="translate(1739.5,1446.5) scale(1,1.037)">Tired</text>
</g>
</svg></body></html>
